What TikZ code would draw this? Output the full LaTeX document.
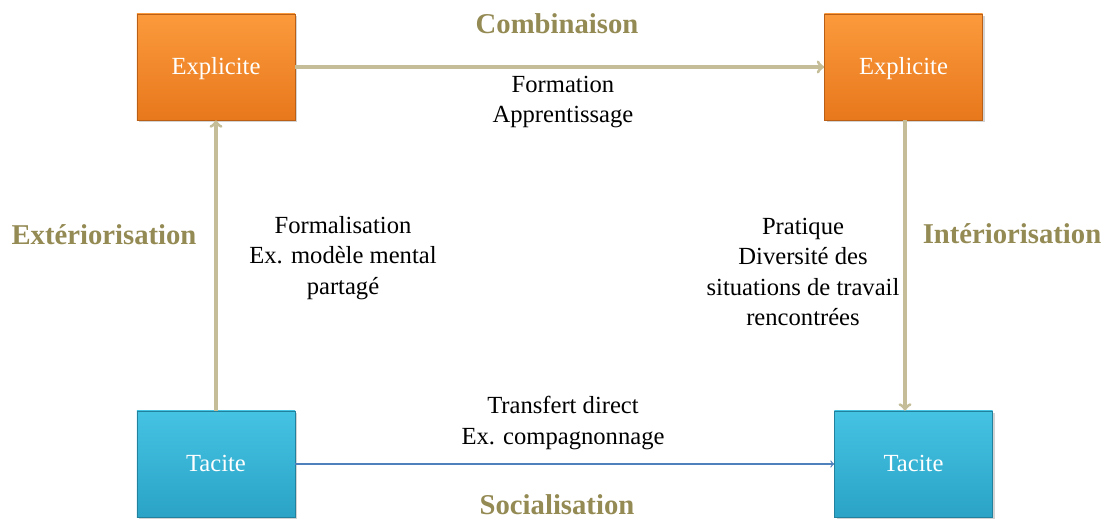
\documentclass[tikz,border=0pt]{standalone}
\usepackage{fontspec}
\setmainfont{Liberation Serif}
\usetikzlibrary{shadows}

\definecolor{orangeTop}{HTML}{FB9A3C}
\definecolor{orangeBot}{HTML}{E8781C}
\definecolor{cyanTop}{HTML}{45C3E3}
\definecolor{cyanBot}{HTML}{2AA3C6}
\definecolor{tanText}{HTML}{948A54}
\definecolor{tanLine}{HTML}{C4BD97}
\definecolor{blueLine}{HTML}{4F81BD}

\tikzset{
    box/.style = {minimum width=3.95cm, minimum height=2.65cm, text=white, text height=2.6ex, text depth=0.25ex, font=\fontsize{17.5}{21}\selectfont, drop shadow={opacity=0.35, shadow xshift=0.06cm, shadow yshift=-0.06cm}},
    expl/.style = {box, top color=orangeTop, bottom color=orangeBot, draw=orangeBot!80!black, line width=0.4pt},
    tac/.style = {box, top color=cyanTop, bottom color=cyanBot, draw=cyanBot!80!black, line width=0.4pt},
    phase/.style = {text=tanText, inner sep=1pt, font=\bfseries\fontsize{20.4}{24}\selectfont},
    note/.style = {align=center, font=\fontsize{17.5}{21.5}\selectfont},
    lien/.style = {->, draw=tanLine, line width=2.2pt},
}

\begin{document}
\begin{tikzpicture}[x=0.025cm, y=-0.025cm]
            
                \useasboundingbox (0,0) rectangle (1106,519);
            
                % Boxes:
                \node[expl] (expA) at (216,67) {Explicite};
                \node[expl] (expB) at (903.5,67) {Explicite};
                \node[tac] (tacA) at (216,464) {Tacite};
                \node[tac] (tacB) at (913.5,464) {Tacite};
            
                % Arrows:
                \draw[lien] (expA.east) -- (expB.west);
                \draw[lien] (tacA.north) -- (expA.south);
                \draw[lien] (expB.south -| 905,0) -- (tacB.north -| 905,0);
                \draw[->, blueLine, line width=0.9pt] (tacA.east) -- (tacB.west);
            
                % Phase names:
                \node[phase] (comb) at (557,24) {Combinaison};
                \node[phase] (exte) at (104,235) {Extériorisation};
                \node[phase] (inte) at (1012,234) {Intériorisation};
                \node[phase] (soci) at (557,505) {Socialisation};
            
                % Notes:
                \node[note] (form) at (563,102) {Formation\\Apprentissage};
                \node[note] (fmls) at (343,258) {Formalisation\\Ex. modèle mental\\partagé};
                \node[note] (prat) at (803,272) {Pratique\\Diversité des\\situations de travail\\rencontrées};
                \node[note] (tran) at (563,423) {Transfert direct\\Ex. compagnonnage};
            \end{tikzpicture}
\end{document}
